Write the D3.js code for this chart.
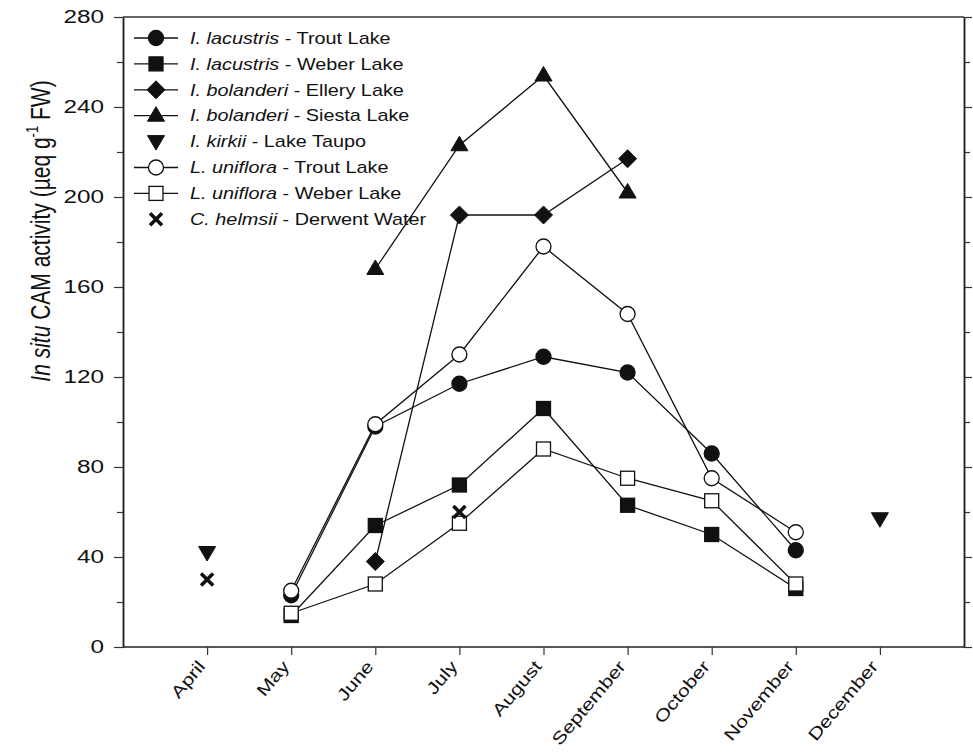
<!DOCTYPE html>
<html>
<head>
<meta charset="utf-8">
<script src="https://cdn.jsdelivr.net/npm/d3@7"></script>
<style>
  body { margin: 0; background: #fff; }
  text { font-family: "Liberation Sans", Arial, sans-serif; fill: #111; }
</style>
</head>
<body>
<script>
// chart size
var width = 973;
var height = 755;

// months on the x axis
var months = ["April", "May", "June", "July", "August", "September", "October", "November", "December"];

// values per month (null = no measurement)
var lacTrout  = [null, 23, 98, 117, 129, 122, 86, 43, null];
var lacWeber  = [null, 14, 54, 72, 106, 63, 50, 26, null];
var bolEllery = [null, null, 38, 192, 192, 217, null, null, null];
var bolSiesta = [null, null, 168, 223, 254, 202, null, null, null];
var kirkii    = [42, null, null, null, null, null, null, null, 57];
var uniTrout  = [null, 25, 99, 130, 178, 148, 75, 51, null];
var uniWeber  = [null, 15, 28, 55, 88, 75, 65, 28, null];
var helmsii   = [30, null, null, 60, null, null, null, null, null];

var species   = ["I. lacustris", "I. lacustris", "I. bolanderi", "I. bolanderi", "I. kirkii", "L. uniflora", "L. uniflora", "C. helmsii"];
var sites     = ["Trout Lake", "Weber Lake", "Ellery Lake", "Siesta Lake", "Lake Taupo", "Trout Lake", "Weber Lake", "Derwent Water"];

var yMajor = [0, 40, 80, 120, 160, 200, 240, 280];
var yMinor = [20, 60, 100, 140, 180, 220, 260];

var series = [
  { vals: lacTrout,  marker: "circle",  fill: "#111", line: true },
  { vals: lacWeber,  marker: "square",  fill: "#111", line: true },
  { vals: bolEllery, marker: "diamond", fill: "#111", line: true },
  { vals: bolSiesta, marker: "triUp",   fill: "#111", line: true },
  { vals: kirkii,    marker: "triDown", fill: "#111", line: false },
  { vals: uniTrout,  marker: "circle",  fill: "#fff", line: true },
  { vals: uniWeber,  marker: "square",  fill: "#fff", line: true },
  { vals: helmsii,   marker: "cross",   fill: "#111", line: false }
];

var pLeft = 123, pRight = 964, pTop = 17, pBottom = 647;

var svg = d3.select("body").append("svg")
    .attr("width", width)
    .attr("height", height);

var x = d3.scaleLinear().domain([-1, 9]).range([pLeft, pRight]);
var y = d3.scaleLinear().domain([0, 280]).range([pBottom, pTop]);

// stretch text horizontally like the original figure
function stretch(sel, k) {
  sel.each(function() {
    var w = this.getComputedTextLength();
    d3.select(this).attr("textLength", w * k).attr("lengthAdjust", "spacingAndGlyphs");
  });
}

// marker drawing
function drawMarker(g, type, fill) {
  var s = "#111";
  if (type == "circle") {
    g.append("circle").attr("r", 7.5).attr("fill", fill).attr("stroke", s).attr("stroke-width", 1.3);
  } else if (type == "square") {
    g.append("rect").attr("x", -7).attr("y", -7).attr("width", 14).attr("height", 14)
      .attr("fill", fill).attr("stroke", s).attr("stroke-width", 1.3);
  } else if (type == "diamond") {
    g.append("path").attr("d", "M0,-9L9,0L0,9L-9,0Z").attr("fill", fill).attr("stroke", s).attr("stroke-width", 1);
  } else if (type == "triUp") {
    g.append("path").attr("d", "M0,-9L8.5,5.5L-8.5,5.5Z").attr("fill", fill).attr("stroke", s).attr("stroke-width", 1);
  } else if (type == "triDown") {
    g.append("path").attr("d", "M-8.5,-6L8.5,-6L0,8.5Z").attr("fill", fill).attr("stroke", s).attr("stroke-width", 1);
  } else if (type == "cross") {
    g.append("path").attr("d", "M-6,-6L6,6M-6,6L6,-6").attr("fill", "none").attr("stroke", s)
      .attr("stroke-width", 3.6).attr("stroke-linecap", "butt");
  }
}

// frame: top line
svg.append("line").attr("x1", pLeft).attr("x2", pRight).attr("y1", pTop).attr("y2", pTop)
  .attr("stroke", "#333").attr("stroke-width", 1.5);

// left axis
var yAxis = svg.append("g").attr("transform", "translate(" + pLeft + ",0)")
  .call(d3.axisLeft(y).tickValues(yMajor).tickSize(9).tickPadding(10).tickSizeOuter(0));
svg.append("g").attr("transform", "translate(" + pLeft + ",0)")
  .call(d3.axisLeft(y).tickValues(yMinor).tickSize(6).tickFormat("").tickSizeOuter(0));
yAxis.selectAll("text").style("font-size", "18px");
stretch(yAxis.selectAll("text"), 1.35);

// right axis
svg.append("g").attr("transform", "translate(" + pRight + ",0)")
  .call(d3.axisRight(y).tickValues(yMajor).tickSize(8).tickFormat("").tickSizeOuter(0));
svg.append("g").attr("transform", "translate(" + pRight + ",0)")
  .call(d3.axisRight(y).tickValues(yMinor).tickSize(6).tickFormat("").tickSizeOuter(0));

// bottom axis
var xAxis = svg.append("g").attr("transform", "translate(0," + pBottom + ")")
  .call(d3.axisBottom(x).tickValues(d3.range(months.length)).tickFormat(function(d) { return months[d]; })
    .tickSize(8).tickSizeOuter(0));
xAxis.select(".domain").attr("d", "M" + pLeft + ",0H" + pRight);
xAxis.selectAll("text")
  .style("font-size", "17px")
  .attr("text-anchor", "end")
  .attr("x", 0).attr("y", 0).attr("dy", "0.35em")
  .attr("transform", "translate(-6,16) rotate(-50)");
stretch(xAxis.selectAll("text"), 1.25);

svg.selectAll(".domain").attr("stroke", "#222").attr("stroke-width", 1.5);
svg.selectAll(".tick line").attr("stroke", "#333").attr("stroke-width", 1.2);

// y label
var yl = svg.append("text")
  .attr("transform", "translate(50,231) rotate(-90) scale(1,1.3)")
  .attr("text-anchor", "middle")
  .style("font-size", "21px");
yl.append("tspan").style("font-style", "italic").text("In situ");
yl.append("tspan").text(" CAM activity (µeq g");
yl.append("tspan").attr("dy", -9).style("font-size", "13px").text("-1");
yl.append("tspan").attr("dy", 9).text(" FW)");

// lines
var line = d3.line()
  .defined(function(d) { return d != null; })
  .x(function(d, i) { return x(i); })
  .y(function(d) { return y(d); });

series.forEach(function(s) {
  if (!s.line) return;
  svg.append("path").datum(s.vals)
    .attr("d", line)
    .attr("fill", "none")
    .attr("stroke", "#111")
    .attr("stroke-width", 1.3);
});

// markers
series.forEach(function(s) {
  s.vals.forEach(function(v, i) {
    if (v == null) return;
    var g = svg.append("g").attr("transform", "translate(" + x(i) + "," + y(v) + ")");
    drawMarker(g, s.marker, s.fill);
  });
});

// legend
var legend = svg.append("g");
series.forEach(function(s, i) {
  var ly = 38 + i * 25.9;
  var g = legend.append("g").attr("transform", "translate(0," + ly + ")");
  if (s.line) {
    g.append("line").attr("x1", 134).attr("x2", 178).attr("y1", 0).attr("y2", 0)
      .attr("stroke", "#111").attr("stroke-width", 1.3);
  }
  var m = g.append("g").attr("transform", "translate(156,0)");
  drawMarker(m, s.marker, s.fill);
  var t = g.append("text").attr("transform", "translate(190,0) scale(1.24,1)")
    .attr("dy", "0.36em").style("font-size", "16px");
  t.append("tspan").style("font-style", "italic").text(species[i]);
  t.append("tspan").text(" - " + sites[i]);
});
</script>
</body>
</html>
